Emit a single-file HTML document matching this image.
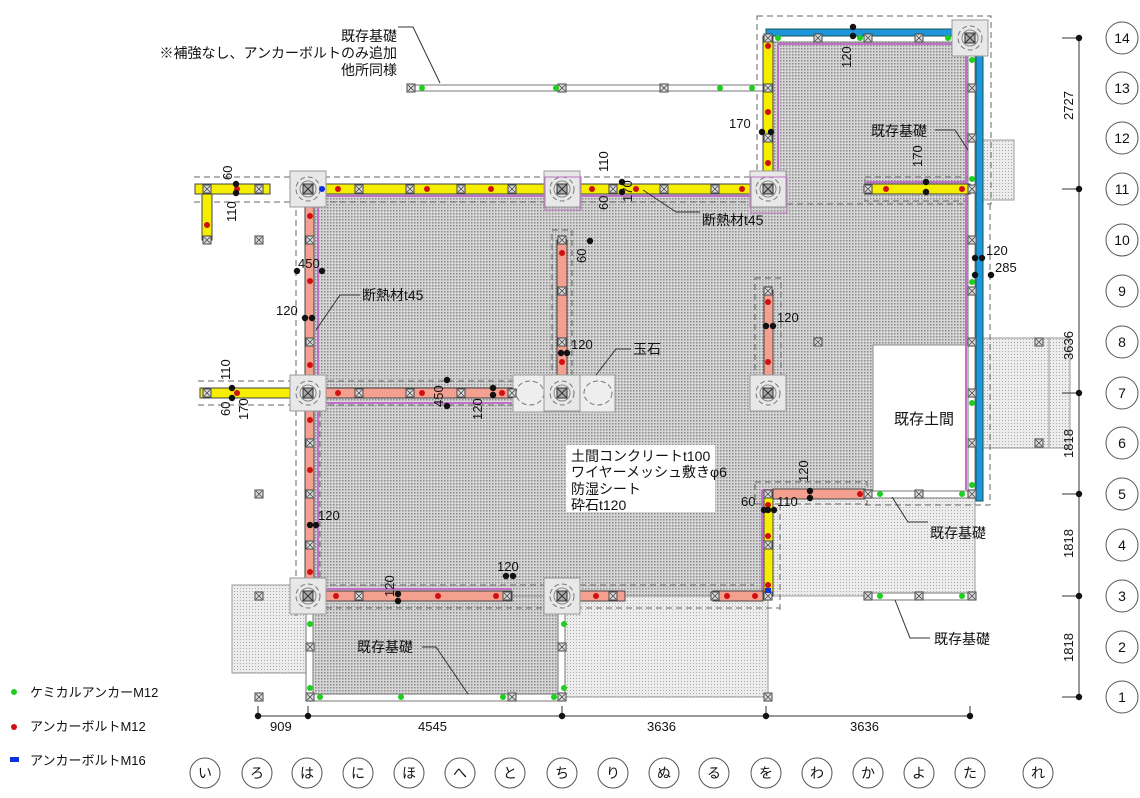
<!DOCTYPE html>
<html><head><meta charset="utf-8"><style>
html,body{margin:0;padding:0;background:#fff;width:1140px;height:798px;overflow:hidden}
svg{display:block;font-family:"Liberation Sans","Noto Sans CJK JP",sans-serif}
</style></head><body>
<svg width="1140" height="798" viewBox="0 0 1140 798" xmlns="http://www.w3.org/2000/svg">
<defs>
<pattern id="pd" width="3" height="3" patternUnits="userSpaceOnUse"><rect width="3" height="3" fill="#d6d6d6"/><rect width="1.5" height="1.5" fill="#8a8a8a"/></pattern>
<pattern id="pl" width="3" height="3" patternUnits="userSpaceOnUse"><rect width="3" height="3" fill="#ececec"/><rect width="1" height="1" fill="#aaa"/></pattern>
<g id="sq"><rect x="-4" y="-4" width="8" height="8" fill="#ddd" stroke="#444" stroke-width="1"/><path d="M-3-3L3 3M3-3L-3 3" stroke="#444" stroke-width=".8"/></g>
<g id="pier"><rect x="-18" y="-18" width="36" height="36" fill="#e8e8e8" stroke="#999"/><circle r="12" fill="none" stroke="#777" stroke-dasharray="5 3"/><circle r="8" fill="none" stroke="#888"/><rect x="-5" y="-5" width="10" height="10" fill="#aaa" stroke="#333"/><path d="M-5-5L5 5M5-5L-5 5" stroke="#333"/></g>
<circle id="g" r="3" fill="#1ed01e"/>
<circle id="r" r="3" fill="#d01010"/>
<circle id="k" r="3.2" fill="#111"/>
</defs>

<rect x="232" y="585" width="78" height="88" fill="url(#pl)" stroke="#999"/>
<rect x="310" y="596" width="252" height="101" fill="url(#pd)" stroke="#999"/>
<rect x="562" y="596" width="206" height="101" fill="url(#pl)" stroke="#999"/>
<rect x="768" y="494" width="207" height="102" fill="url(#pl)" stroke="#999"/>
<rect x="982" y="140" width="32" height="60" fill="url(#pl)" stroke="#999"/>
<rect x="982" y="338" width="88" height="110" fill="url(#pl)" stroke="#999"/>
<line x1="1049" y1="338" x2="1049" y2="448" stroke="#999"/>
<polygon points="310,189 768,189 768,38 975,38 975,345 873,345 873,494 768,494 768,596 310,596" fill="url(#pd)" stroke="#999"/>
<rect x="873" y="345" width="100" height="149" fill="#fff" stroke="#888"/>
<rect x="566" y="445" width="149" height="67" fill="#fff"/>

<g fill="none" stroke="#666" stroke-dasharray="6 4" stroke-width="1">
<rect x="757" y="16" width="234" height="188"/>
<polyline points="194,202 296,202 296,617"/>
<line x1="194" y1="177" x2="780" y2="177"/>
<line x1="320" y1="202" x2="754" y2="202"/>
<rect x="552" y="230" width="20" height="150"/>
<rect x="755" y="278" width="26" height="100"/>
<rect x="865" y="177" width="110" height="24"/>
<line x1="198" y1="381" x2="520" y2="381"/>
<line x1="198" y1="405" x2="520" y2="405"/>
<line x1="320" y1="381" x2="320" y2="585"/>
<line x1="990" y1="204" x2="990" y2="505"/>
<line x1="865" y1="505" x2="990" y2="505"/>
<rect x="755" y="482" width="112" height="22"/>
<line x1="780" y1="504" x2="780" y2="610"/>
<line x1="320" y1="585" x2="754" y2="585"/>
<line x1="296" y1="608" x2="780" y2="608"/>
</g>

<g fill="#fff" stroke="#777">
<rect x="410" y="85" width="358" height="6"/>
<rect x="766" y="35" width="206" height="7"/>
<rect x="968" y="42" width="7" height="452"/>
<rect x="865" y="491" width="110" height="7"/>
<rect x="865" y="593" width="110" height="7"/>
<rect x="306" y="596" width="7" height="101"/>
<rect x="558" y="596" width="7" height="101"/>
<rect x="306" y="694" width="259" height="7"/>
</g>

<rect x="766" y="29" width="216" height="7" fill="#1e96dc" stroke="#155"/>
<rect x="976" y="29" width="7" height="472" fill="#1e96dc" stroke="#155"/>

<g fill="none" stroke="#c070c8" stroke-width="2">
<polyline points="322,196 760,196"/>
<polyline points="318,200 318,585"/>
<polyline points="318,403 512,403"/>
<polyline points="318,589 512,589"/>
<polyline points="778,44 966,44 966,490"/>
<polyline points="778,44 778,182"/>
<polyline points="866,182 966,182"/>
<polyline points="762,490 866,490"/>
<polyline points="762,490 762,596"/>
</g>

<g fill="#f5ee00" stroke="#444" stroke-width="1">
<rect x="195" y="184" width="75" height="10"/>
<rect x="202" y="194" width="10" height="46"/>
<rect x="290" y="184" width="478" height="10"/>
<rect x="763" y="36" width="10" height="153"/>
<rect x="865" y="184" width="105" height="10"/>
<rect x="200" y="388" width="108" height="10"/>
<rect x="764" y="494" width="9" height="102"/>
</g>
<g fill="#f4a090" stroke="#444" stroke-width="1">
<rect x="305" y="207" width="9" height="389"/>
<rect x="326" y="388" width="186" height="10"/>
<rect x="557" y="240" width="10" height="135"/>
<rect x="764" y="290" width="9" height="86"/>
<rect x="326" y="591" width="186" height="10"/>
<rect x="580" y="591" width="45" height="10"/>
<rect x="713" y="591" width="50" height="10"/>
<rect x="773" y="489" width="92" height="10"/>
</g>

<rect x="513" y="375" width="102" height="37" fill="#eee" stroke="#999"/>
<ellipse cx="530" cy="393" rx="14" ry="12" fill="none" stroke="#777" stroke-dasharray="5 3"/>
<ellipse cx="598" cy="393" rx="14" ry="12" fill="none" stroke="#777" stroke-dasharray="5 3"/>

<use href="#pier" x="308" y="189"/><use href="#pier" x="562" y="189"/><use href="#pier" x="768" y="189"/>
<use href="#pier" x="970" y="38"/><use href="#pier" x="308" y="393"/><use href="#pier" x="562" y="393"/>
<use href="#pier" x="768" y="393"/><use href="#pier" x="308" y="596"/><use href="#pier" x="562" y="596"/>
<rect x="751" y="177" width="36" height="36" fill="none" stroke="#c070c8"/>
<rect x="545" y="177" width="36" height="33" fill="none" stroke="#c070c8"/>

<g>
<use href="#sq" x="207" y="189"/><use href="#sq" x="259" y="189"/><use href="#sq" x="207" y="240"/><use href="#sq" x="259" y="240"/>
<use href="#sq" x="359" y="189"/><use href="#sq" x="410" y="189"/><use href="#sq" x="461" y="189"/><use href="#sq" x="512" y="189"/>
<use href="#sq" x="613" y="189"/><use href="#sq" x="664" y="189"/><use href="#sq" x="715" y="189"/>
<use href="#sq" x="411" y="88"/><use href="#sq" x="562" y="88"/><use href="#sq" x="664" y="88"/><use href="#sq" x="768" y="88"/>
<use href="#sq" x="768" y="38"/><use href="#sq" x="818" y="38"/><use href="#sq" x="868" y="38"/><use href="#sq" x="919" y="38"/>
<use href="#sq" x="768" y="138"/><use href="#sq" x="972" y="88"/><use href="#sq" x="972" y="138"/><use href="#sq" x="972" y="189"/>
<use href="#sq" x="972" y="240"/><use href="#sq" x="972" y="291"/><use href="#sq" x="972" y="342"/><use href="#sq" x="972" y="393"/><use href="#sq" x="972" y="443"/><use href="#sq" x="972" y="494"/>
<use href="#sq" x="868" y="189"/>
<use href="#sq" x="310" y="240"/><use href="#sq" x="310" y="342"/><use href="#sq" x="310" y="443"/><use href="#sq" x="310" y="494"/><use href="#sq" x="310" y="545"/>
<use href="#sq" x="359" y="393"/><use href="#sq" x="410" y="393"/><use href="#sq" x="461" y="393"/><use href="#sq" x="512" y="393"/>
<use href="#sq" x="562" y="240"/><use href="#sq" x="562" y="291"/><use href="#sq" x="562" y="342"/>
<use href="#sq" x="768" y="291"/><use href="#sq" x="818" y="342"/><use href="#sq" x="207" y="393"/><use href="#sq" x="259" y="494"/>
<use href="#sq" x="359" y="596"/><use href="#sq" x="507" y="596"/><use href="#sq" x="613" y="596"/><use href="#sq" x="715" y="596"/><use href="#sq" x="768" y="596"/>
<use href="#sq" x="768" y="494"/><use href="#sq" x="768" y="545"/><use href="#sq" x="868" y="494"/><use href="#sq" x="919" y="494"/>
<use href="#sq" x="868" y="596"/><use href="#sq" x="919" y="596"/><use href="#sq" x="972" y="596"/>
<use href="#sq" x="1039" y="342"/><use href="#sq" x="1039" y="443"/>
<use href="#sq" x="259" y="596"/><use href="#sq" x="259" y="697"/><use href="#sq" x="310" y="647"/><use href="#sq" x="310" y="697"/>
<use href="#sq" x="562" y="647"/><use href="#sq" x="562" y="697"/><use href="#sq" x="512" y="697"/><use href="#sq" x="768" y="697"/>
</g>

<g>
<use href="#g" x="422" y="88"/><use href="#g" x="556" y="88"/><use href="#g" x="720" y="88"/><use href="#g" x="752" y="88"/>
<use href="#g" x="778" y="38"/><use href="#g" x="860" y="38"/><use href="#g" x="948" y="38"/>
<use href="#g" x="972" y="60"/><use href="#g" x="972" y="179"/><use href="#g" x="972" y="282"/><use href="#g" x="972" y="403"/><use href="#g" x="972" y="485"/>
<use href="#g" x="880" y="494"/><use href="#g" x="962" y="494"/><use href="#g" x="880" y="596"/><use href="#g" x="962" y="596"/>
<use href="#g" x="310" y="624"/><use href="#g" x="310" y="688"/><use href="#g" x="320" y="697"/><use href="#g" x="401" y="697"/><use href="#g" x="503" y="697"/><use href="#g" x="554" y="697"/>
<use href="#g" x="564" y="624"/><use href="#g" x="564" y="688"/>
<use href="#g" x="14" y="692"/>
</g>
<g>
<use href="#r" x="237" y="189"/><use href="#r" x="207" y="225"/><use href="#r" x="338" y="189"/><use href="#r" x="427" y="189"/><use href="#r" x="491" y="189"/><use href="#r" x="592" y="189"/><use href="#r" x="636" y="189"/><use href="#r" x="742" y="189"/>
<use href="#r" x="768" y="46"/><use href="#r" x="768" y="112"/><use href="#r" x="768" y="163"/>
<use href="#r" x="886" y="189"/><use href="#r" x="962" y="189"/>
<use href="#r" x="310" y="216"/><use href="#r" x="310" y="281"/><use href="#r" x="310" y="365"/><use href="#r" x="310" y="420"/><use href="#r" x="310" y="470"/><use href="#r" x="310" y="525"/><use href="#r" x="310" y="572"/>
<use href="#r" x="338" y="393"/><use href="#r" x="422" y="393"/><use href="#r" x="502" y="393"/>
<use href="#r" x="562" y="253"/><use href="#r" x="562" y="362"/><use href="#r" x="768" y="302"/><use href="#r" x="768" y="362"/>
<use href="#r" x="237" y="393"/>
<use href="#r" x="336" y="596"/><use href="#r" x="438" y="596"/><use href="#r" x="496" y="596"/><use href="#r" x="596" y="596"/><use href="#r" x="727" y="596"/><use href="#r" x="755" y="596"/>
<use href="#r" x="768" y="505"/><use href="#r" x="768" y="536"/><use href="#r" x="768" y="585"/><use href="#r" x="860" y="494"/>
<use href="#r" x="14" y="727"/>
</g>
<circle cx="322" cy="189" r="3" fill="#1030e0"/>
<rect x="765" y="588" width="6" height="5" fill="#1030e0"/>
<rect x="10" y="757" width="9" height="5" fill="#1030e0"/>

<g>
<use href="#k" x="853" y="27"/><use href="#k" x="853" y="36"/>
<use href="#k" x="762" y="132"/><use href="#k" x="771" y="132"/>
<use href="#k" x="926" y="182"/><use href="#k" x="926" y="192"/>
<use href="#k" x="236" y="184"/><use href="#k" x="236" y="193"/>
<use href="#k" x="622" y="182"/><use href="#k" x="622" y="192"/>
<use href="#k" x="590" y="241"/>
<use href="#k" x="297" y="271"/><use href="#k" x="322" y="271"/>
<use href="#k" x="305" y="318"/><use href="#k" x="312" y="318"/>
<use href="#k" x="561" y="353"/><use href="#k" x="567" y="353"/>
<use href="#k" x="766" y="326"/><use href="#k" x="773" y="326"/>
<use href="#k" x="447" y="380"/><use href="#k" x="447" y="406"/>
<use href="#k" x="493" y="388"/><use href="#k" x="493" y="395"/>
<use href="#k" x="232" y="388"/><use href="#k" x="232" y="398"/>
<use href="#k" x="975" y="258"/><use href="#k" x="982" y="258"/><use href="#k" x="975" y="275"/><use href="#k" x="991" y="275"/>
<use href="#k" x="310" y="525"/><use href="#k" x="316" y="525"/>
<use href="#k" x="810" y="491"/><use href="#k" x="810" y="498"/>
<use href="#k" x="764" y="510"/><use href="#k" x="768" y="510"/><use href="#k" x="774" y="510"/>
<use href="#k" x="398" y="594"/><use href="#k" x="398" y="601"/>
<use href="#k" x="506" y="576"/><use href="#k" x="513" y="576"/>
</g>

<g fill="none" stroke="#333" stroke-width="1">
<polyline points="398,27 413,27 440,83"/>
<polyline points="643,190 676,212 700,212"/>
<polyline points="360,295 340,295 316,330"/>
<polyline points="631,349 616,349 596,375"/>
<polyline points="935,130 955,130 968,150"/>
<polyline points="892,497 908,522 928,522"/>
<polyline points="895,600 910,638 930,638"/>
<polyline points="422,647 436,647 468,694"/>
<line x1="1079" y1="38" x2="1079" y2="697"/>
<line x1="1062" y1="38" x2="1079" y2="38"/><line x1="1062" y1="189" x2="1079" y2="189"/><line x1="1062" y1="393" x2="1079" y2="393"/><line x1="1062" y1="494" x2="1079" y2="494"/><line x1="1062" y1="596" x2="1079" y2="596"/><line x1="1062" y1="697" x2="1079" y2="697"/>
<line x1="258" y1="716" x2="970" y2="716"/>
<line x1="258" y1="706" x2="258" y2="716"/><line x1="308" y1="706" x2="308" y2="716"/><line x1="562" y1="706" x2="562" y2="716"/><line x1="766" y1="706" x2="766" y2="716"/><line x1="970" y1="706" x2="970" y2="716"/>
</g>
<g>
<use href="#k" x="1079" y="38"/><use href="#k" x="1079" y="189"/><use href="#k" x="1079" y="393"/><use href="#k" x="1079" y="494"/><use href="#k" x="1079" y="596"/><use href="#k" x="1079" y="697"/>
<use href="#k" x="258" y="716"/><use href="#k" x="308" y="716"/><use href="#k" x="562" y="716"/><use href="#k" x="766" y="716"/><use href="#k" x="970" y="716"/>
</g>

<g font-size="14" fill="#111">
<text x="397" y="41" text-anchor="end">既存基礎</text>
<text x="397" y="58" text-anchor="end">※補強なし、アンカーボルトのみ追加</text>
<text x="397" y="75" text-anchor="end">他所同様</text>
<text x="702" y="225">断熱材t45</text>
<text x="362" y="300">断熱材t45</text>
<text x="633" y="354">玉石</text>
<text x="871" y="136">既存基礎</text>
<text x="894" y="424" font-size="15">既存土間</text>
<text x="930" y="538">既存基礎</text>
<text x="934" y="644">既存基礎</text>
<text x="357" y="652">既存基礎</text>
<text x="571" y="461">土間コンクリートt100</text>
<text x="571" y="477">ワイヤーメッシュ敷きφ6</text>
<text x="571" y="494">防湿シート</text>
<text x="571" y="510">砕石t120</text>
<text x="30" y="697" font-size="13">ケミカルアンカーM12</text>
<text x="30" y="731" font-size="13">アンカーボルトM12</text>
<text x="30" y="765" font-size="13">アンカーボルトM16</text>
</g>
<g font-size="13" fill="#111">
<text x="729" y="128">170</text>
<text x="986" y="255">120</text>
<text x="995" y="272">285</text>
<text x="298" y="268">450</text>
<text x="276" y="315">120</text>
<text x="571" y="349">120</text>
<text x="777" y="322">120</text>
<text x="318" y="520">120</text>
<text x="741" y="506">60</text>
<text x="777" y="506">110</text>
<text x="497" y="571">120</text>
<text x="270" y="731">909</text>
<text x="418" y="731">4545</text>
<text x="647" y="731">3636</text>
<text x="850" y="731">3636</text>
<g transform="rotate(-90)">
<text x="-68" y="851">120</text>
<text x="-167" y="922">170</text>
<text x="-180" y="232">60</text>
<text x="-222" y="236">110</text>
<text x="-172" y="608">110</text>
<text x="-210" y="608">60</text>
<text x="-202" y="632">170</text>
<text x="-263" y="586">60</text>
<text x="-407" y="443">450</text>
<text x="-420" y="482">120</text>
<text x="-380" y="230">110</text>
<text x="-416" y="230">60</text>
<text x="-420" y="248">170</text>
<text x="-482" y="808">120</text>
<text x="-597" y="394">120</text>
<text x="-120" y="1073">2727</text>
<text x="-360" y="1073">3636</text>
<text x="-458" y="1073">1818</text>
<text x="-558" y="1073">1818</text>
<text x="-662" y="1073">1818</text>
</g>
</g>

<g fill="#fff" stroke="#555" stroke-width="1">
<circle cx="1122" cy="38" r="16"/><circle cx="1122" cy="88" r="16"/><circle cx="1122" cy="138" r="16"/><circle cx="1122" cy="189" r="16"/><circle cx="1122" cy="240" r="16"/><circle cx="1122" cy="291" r="16"/><circle cx="1122" cy="342" r="16"/><circle cx="1122" cy="393" r="16"/><circle cx="1122" cy="443" r="16"/><circle cx="1122" cy="494" r="16"/><circle cx="1122" cy="545" r="16"/><circle cx="1122" cy="596" r="16"/><circle cx="1122" cy="647" r="16"/><circle cx="1122" cy="697" r="16"/>
<circle cx="205" cy="773" r="15"/><circle cx="257" cy="773" r="15"/><circle cx="307" cy="773" r="15"/><circle cx="358" cy="773" r="15"/><circle cx="409" cy="773" r="15"/><circle cx="460" cy="773" r="15"/><circle cx="510" cy="773" r="15"/><circle cx="562" cy="773" r="15"/><circle cx="613" cy="773" r="15"/><circle cx="664" cy="773" r="15"/><circle cx="714" cy="773" r="15"/><circle cx="766" cy="773" r="15"/><circle cx="817" cy="773" r="15"/><circle cx="868" cy="773" r="15"/><circle cx="919" cy="773" r="15"/><circle cx="970" cy="773" r="15"/><circle cx="1038" cy="773" r="15"/>
</g>
<g font-size="14" fill="#111" text-anchor="middle">
<text x="1122" y="43">14</text><text x="1122" y="93">13</text><text x="1122" y="143">12</text><text x="1122" y="194">11</text><text x="1122" y="245">10</text><text x="1122" y="296">9</text><text x="1122" y="347">8</text><text x="1122" y="398">7</text><text x="1122" y="448">6</text><text x="1122" y="499">5</text><text x="1122" y="550">4</text><text x="1122" y="601">3</text><text x="1122" y="652">2</text><text x="1122" y="702">1</text>
<text x="205" y="778">い</text><text x="257" y="778">ろ</text><text x="307" y="778">は</text><text x="358" y="778">に</text><text x="409" y="778">ほ</text><text x="460" y="778">へ</text><text x="510" y="778">と</text><text x="562" y="778">ち</text><text x="613" y="778">り</text><text x="664" y="778">ぬ</text><text x="714" y="778">る</text><text x="766" y="778">を</text><text x="817" y="778">わ</text><text x="868" y="778">か</text><text x="919" y="778">よ</text><text x="970" y="778">た</text><text x="1038" y="778">れ</text>
</g>
</svg>
</body></html>
